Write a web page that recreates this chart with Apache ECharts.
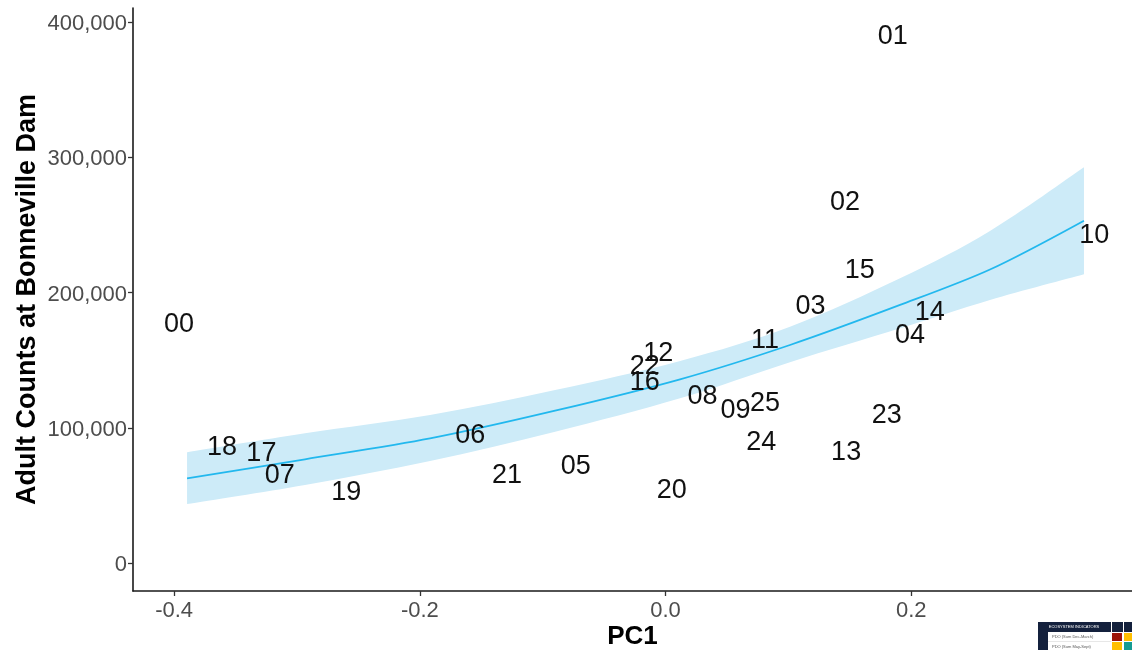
<!DOCTYPE html>
<html>
<head>
<meta charset="utf-8">
<title>Adult Counts at Bonneville Dam vs PC1</title>
<script src="https://cdn.jsdelivr.net/npm/echarts@6/dist/echarts.min.js"></script>
<style>
  html, body { margin: 0; padding: 0; background: #ffffff; }
  #chart { width: 1132px; height: 650px; }
</style>
</head>
<body>
<div id="chart"></div>
<script>
// Year labels (two-digit) with their PC1 score and adult counts
const years  = ['00','01','02','03','04','05','06','07','08','09','10','11','12',
                '13','14','15','16','17','18','19','20','21','22','23','24','25'];
const pc1    = [-0.396, 0.185, 0.146, 0.118, 0.199, -0.073, -0.159, -0.314, 0.030, 0.057, 0.349, 0.081, -0.006,
                0.147, 0.215, 0.158, -0.017, -0.329, -0.361, -0.260, 0.005, -0.129, -0.017, 0.180, 0.078, 0.081];
const counts = [178000, 390400, 267700, 190800, 169300, 72500, 95400, 65800, 124200, 114400, 243800, 165600, 156200,
                82800, 186500, 217900, 134800, 82300, 86500, 53500, 54700, 65800, 146400, 110200, 90900, 119300];

// Fitted trend and its confidence band
const fitX     = [-0.3895, -0.2935, -0.1917, -0.0899, 0.0118, 0.1013, 0.1909, 0.2641, 0.3406];
const fitY     = [62600, 76700, 92100, 112600, 135800, 161200, 190800, 217000, 253100];
const fitLower = [43600, 57700, 75400, 97100, 121800, 148500, 173500, 194500, 213500];
const fitUpper = [81900, 95900, 109400, 127900, 149400, 174700, 210500, 245500, 292600];

// Axis ticks
const xTicks = [-0.4, -0.2, 0.0, 0.2];
const yTicks = [0, 100000, 200000, 300000, 400000];

const chart = echarts.init(document.getElementById('chart'), null, { renderer: 'canvas' });

const FONT = '"Liberation Sans", Arial, Helvetica, sans-serif';

// Smooth path segment through pixel points (Catmull-Rom converted to cubic Bezier)
function curveThrough(pts, t) {
  let d = '';
  for (let i = 0; i < pts.length - 1; i++) {
    const p0 = pts[Math.max(i - 1, 0)];
    const p1 = pts[i];
    const p2 = pts[i + 1];
    const p3 = pts[Math.min(i + 2, pts.length - 1)];
    const c1 = [p1[0] + (p2[0] - p0[0]) * t, p1[1] + (p2[1] - p0[1]) * t];
    const c2 = [p2[0] - (p3[0] - p1[0]) * t, p2[1] - (p3[1] - p1[1]) * t];
    d += ' C' + c1[0] + ',' + c1[1] + ' ' + c2[0] + ',' + c2[1] + ' ' + p2[0] + ',' + p2[1];
  }
  return d;
}

const option = {
  animation: false,
  backgroundColor: '#ffffff',
  grid: { left: 133, right: 0, top: 8, bottom: 59, containLabel: false, outerBoundsMode: 'none' },
  xAxis: {
    type: 'value',
    min: -0.4335,
    max: 0.3797,
    name: 'PC1',
    nameLocation: 'middle',
    nameMoveOverlap: false,
    nameGap: 33,
    nameTextStyle: { fontFamily: FONT, fontSize: 26, fontWeight: 'bold', color: '#000000' },
    axisLine: { onZero: false, lineStyle: { color: '#1a1a1a', width: 1.6 } },
    axisTick: { show: true, length: 5, customValues: xTicks, lineStyle: { color: '#333333', width: 1.3 } },
    axisLabel: {
      customValues: xTicks,
      margin: 9,
      fontFamily: FONT, fontSize: 22, color: '#4d4d4d',
      formatter: v => v.toFixed(1)
    },
    splitLine: { show: false }
  },
  yAxis: {
    type: 'value',
    min: -20700,
    max: 410350,
    name: 'Adult Counts at Bonneville Dam',
    nameLocation: 'middle',
    nameRotate: 90,
    nameMoveOverlap: false,
    nameGap: 92,
    nameTextStyle: { fontFamily: FONT, fontSize: 27, fontWeight: 'bold', color: '#000000' },
    axisLine: { show: true, onZero: false, lineStyle: { color: '#1a1a1a', width: 1.6 } },
    axisTick: { show: true, length: 5, customValues: yTicks, lineStyle: { color: '#333333', width: 1.3 } },
    axisLabel: {
      customValues: yTicks,
      margin: 6,
      formatter: v => '{t|' + v.toLocaleString('en-US') + '}',
      rich: {
        t: { fontFamily: FONT, fontSize: 22, color: '#4d4d4d', padding: [4, 0, 0, 0] }
      }
    },
    splitLine: { show: false }
  },
  series: [
    {
      // confidence band: upper edge left to right, lower edge back, through the axis scales
      type: 'custom',
      silent: true,
      z: 1,
      data: [[fitX[0], fitY[0]]],
      renderItem: function (params, api) {
        const up = fitX.map((x, i) => api.coord([x, fitUpper[i]]));
        const lo = fitX.map((x, i) => api.coord([x, fitLower[i]])).reverse();
        let d = 'M' + up[0][0] + ',' + up[0][1] + curveThrough(up, 1 / 6);
        d += ' L' + lo[0][0] + ',' + lo[0][1] + curveThrough(lo, 1 / 6) + ' Z';
        return {
          type: 'path',
          shape: { pathData: d },
          style: { fill: '#cdebf8', stroke: null }
        };
      }
    },
    {
      type: 'line',
      z: 2,
      silent: true,
      smooth: 0.3,
      showSymbol: false,
      data: fitX.map((x, i) => [x, fitY[i]]),
      lineStyle: { color: '#22b8ee', width: 1.8 }
    },
    {
      type: 'scatter',
      z: 3,
      silent: true,
      symbolSize: 0,
      itemStyle: { opacity: 1 },
      data: years.map((y, i) => ({ name: y, value: [pc1[i], counts[i]] })),
      label: {
        show: true,
        position: 'inside',
        offset: [0, 2],
        formatter: '{b}',
        fontFamily: FONT,
        fontSize: 27,
        color: '#111111',
        textBorderWidth: 0
      }
    }
  ],
  graphic: [
    // small ecosystem-indicator badge in the lower right corner
    {
      type: 'group',
      left: 1038,
      top: 622,
      silent: true,
      children: [
        { type: 'rect', shape: { x: 0, y: 0, width: 94, height: 10 }, style: { fill: '#14213d' } },
        { type: 'text', style: { x: 36, y: 5, text: 'ECOSYSTEM INDICATORS', fontSize: 4, fill: '#ffffff', align: 'center', verticalAlign: 'middle', fontFamily: FONT } },
        { type: 'rect', shape: { x: 73, y: 0, width: 1, height: 28 }, style: { fill: '#ffffff' } },
        { type: 'rect', shape: { x: 85, y: 0, width: 1, height: 28 }, style: { fill: '#ffffff' } },
        { type: 'rect', shape: { x: 0, y: 10, width: 10, height: 18 }, style: { fill: '#14213d' } },
        { type: 'text', style: { x: 14, y: 15, text: 'PDO (Sum Dec-March)', fontSize: 4, fill: '#555555', verticalAlign: 'middle', fontFamily: FONT } },
        { type: 'text', style: { x: 14, y: 25, text: 'PDO (Sum May-Sept)', fontSize: 4, fill: '#555555', verticalAlign: 'middle', fontFamily: FONT } },
        { type: 'rect', shape: { x: 74, y: 11, width: 10, height: 8 }, style: { fill: '#9b1408' } },
        { type: 'rect', shape: { x: 86, y: 11, width: 8, height: 8 }, style: { fill: '#ffbf00' } },
        { type: 'rect', shape: { x: 74, y: 20, width: 10, height: 8 }, style: { fill: '#ffbf00' } },
        { type: 'rect', shape: { x: 86, y: 20, width: 8, height: 8 }, style: { fill: '#159c93' } },
        { type: 'rect', shape: { x: 10, y: 19.5, width: 63, height: 0.6 }, style: { fill: '#d0d0d0' } }
      ]
    }
  ]
};

chart.setOption(option);
</script>
</body>
</html>
